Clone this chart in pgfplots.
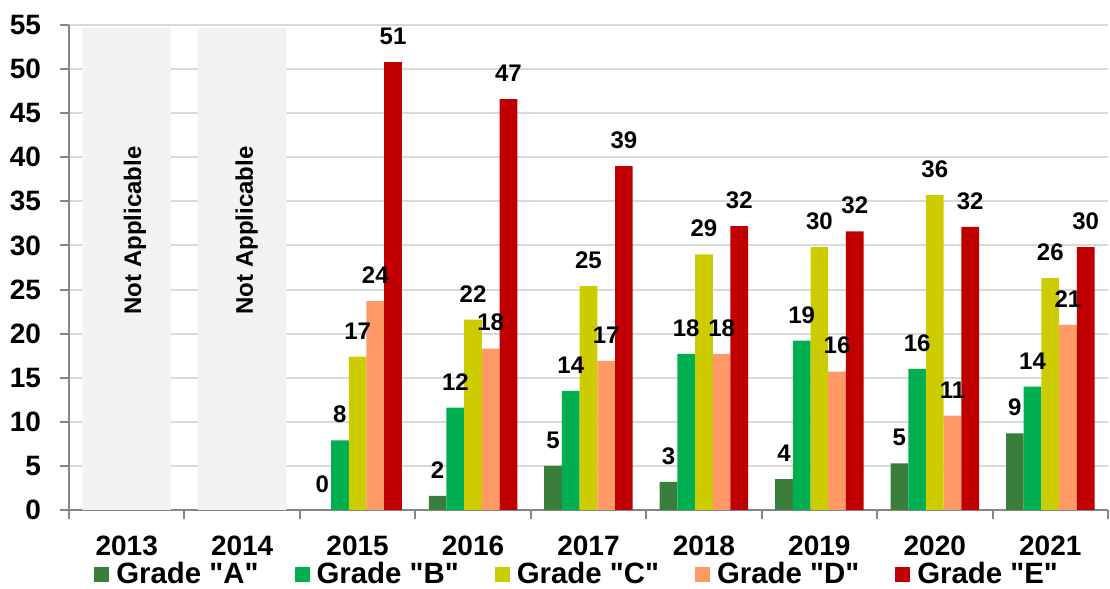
\documentclass[border=0pt]{standalone}
\usepackage{fontspec}
\setmainfont{Liberation Sans}[Ligatures=TeXOff]
\usepackage{pgfplots}
\pgfplotsset{compat=1.18}
\definecolor{gradeA}{HTML}{3B7D3B}
\definecolor{gradeB}{HTML}{00B050}
\definecolor{gradeC}{HTML}{CCCC00}
\definecolor{gradeD}{HTML}{FF9966}
\definecolor{gradeE}{HTML}{C00000}
\definecolor{naGray}{HTML}{F2F2F2}
\definecolor{gridGray}{HTML}{D9D9D9}
\definecolor{axGray}{HTML}{868686}

\pgfplotsset{
  gradebar/.style={
    ybar, bar width=8.85pt, bar shift=#1, draw=none,
    nodes near coords, point meta=explicit symbolic,
    every node near coord/.append style={font=\bfseries\fontsize{12}{14}\selectfont,
      anchor=south, inner sep=0pt, yshift=8.5pt, xshift=#1},
    legend image code/.code={\fill[##1] (0pt,-3.75pt) rectangle (7.5pt,3.75pt);
      \path (0pt,0pt) -- (9pt,0pt);}
  }
}

\begin{document}
\begin{tikzpicture}
\begin{axis}[
  scale only axis,
  width=519.5pt, height=242.5pt,
  xmin=-0.5, xmax=8.5, ymin=0, ymax=55,
  clip=false,
  axis x line*=bottom, axis y line*=left,
  axis line style={axGray, line width=1pt},
  xtick={0,...,8},
  xticklabels={2013,2014,2015,2016,2017,2018,2019,2020,2021},
  minor xtick={-0.5,0.5,...,8.5},
  major x tick style={draw=none},
  minor x tick style={axGray, line width=1pt},
  ytick={0,5,...,55},
  y tick style={axGray, line width=1pt},
  tick align=outside,
  major tick length=4.5pt, minor tick length=4.5pt,
  ymajorgrids,
  grid style={gridGray, line width=1pt},
  /pgf/number format/assume math mode=true,
  tick label style={font=\bfseries\fontsize{14}{16}\selectfont},
  xticklabel style={yshift=-5pt},
  yticklabel style={xshift=-6pt},
  legend style={at={(0.024,-0.132)}, anchor=west, draw=none, fill=none,
    inner sep=0pt, nodes={inner ysep=0pt},
    font=\bfseries\fontsize{14.7}{16}\selectfont},
  legend columns=5,
  legend cell align=left,
  /tikz/every even column/.append style={column sep=16pt},
]
\coordinate (sw) at (rel axis cs:0,0);

\addplot[ybar, bar width=44.25pt, bar shift=0pt, fill=naGray, draw=none, forget plot]
  coordinates {(0,54.7) (1,54.7)};

\addplot[gradebar=-17.7pt, fill=gradeA] coordinates {
  (2,0) [0] (3,1.6) [2] (4,5.0) [5] (5,3.2) [3] (6,3.5) [4] (7,5.3) [5] (8,8.7) [9]};
\addlegendentry{Grade "A"}
\addplot[gradebar=-8.85pt, fill=gradeB] coordinates {
  (2,7.9) [8] (3,11.6) [12] (4,13.5) [14] (5,17.7) [18] (6,19.2) [19] (7,16.0) [16] (8,14.0) [14]};
\addlegendentry{Grade "B"}
\addplot[gradebar=0pt, fill=gradeC] coordinates {
  (2,17.4) [17] (3,21.6) [22] (4,25.4) [25] (5,29.0) [29] (6,29.8) [30] (7,35.7) [36] (8,26.3) [26]};
\addlegendentry{Grade "C"}
\addplot[gradebar=8.85pt, fill=gradeD] coordinates {
  (2,23.7) [24] (3,18.3) [18] (4,16.9) [17] (5,17.7) [18] (6,15.7) [16] (7,10.7) [11] (8,21.0) [21]};
\addlegendentry{Grade "D"}
\addplot[gradebar=17.7pt, fill=gradeE] coordinates {
  (2,50.8) [51] (3,46.6) [47] (4,39.0) [39] (5,32.2) [32] (6,31.6) [32] (7,32.1) [32] (8,29.8) [30]};
\addlegendentry{Grade "E"}

\node[rotate=90, font=\bfseries\fontsize{12}{14}\selectfont] at (axis cs:0.07,31.7) {Not Applicable};
\node[rotate=90, font=\bfseries\fontsize{12}{14}\selectfont] at (axis cs:1.04,31.7) {Not Applicable};
\end{axis}
\pgfresetboundingbox
\path[use as bounding box] ([xshift=-34.5pt,yshift=-39.5pt]sw) rectangle ++(555pt,294.5pt);
\end{tikzpicture}
\end{document}
